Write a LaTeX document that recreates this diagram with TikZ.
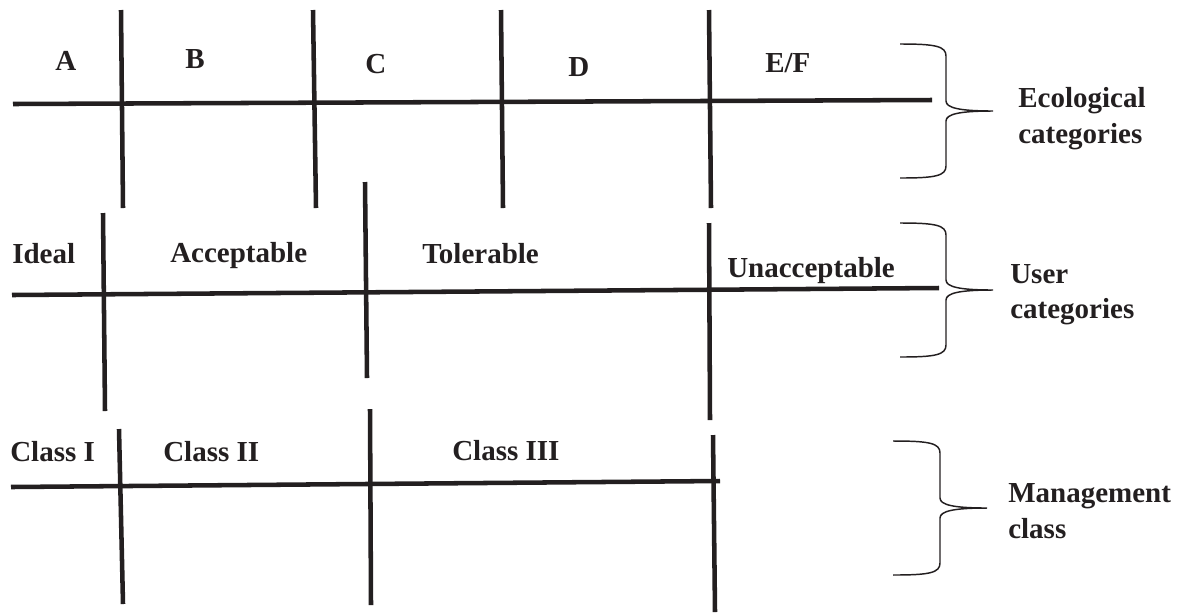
\documentclass[tikz,border=0pt]{standalone}
\usepackage{fontspec}
\setmainfont{Liberation Serif}
\definecolor{ink}{HTML}{231F20}
\tikzset{
  bar/.style={draw=ink,line width=3.4pt},
  lab/.style={anchor=base west,inner sep=0pt,text=ink,font=\fontsize{21.75}{26}\selectfont\bfseries},
  bracket/.style={draw=ink,line width=1.1pt}
}
\begin{document}
\begin{tikzpicture}[x=0.75pt,y=-0.75pt]
\useasboundingbox (0,0) rectangle (1187,612);
% ---------- Row 1: ecological categories
\coordinate (h1a) at (13,104); \coordinate (h1b) at (932,100);
\draw[bar] (h1a) -- (h1b);
\coordinate (v1at) at (121,10);  \coordinate (v1ab) at (123,208);
\coordinate (v1bt) at (313,10);  \coordinate (v1bb) at (316,208);
\coordinate (v1ct) at (501,10);  \coordinate (v1cb) at (503,208);
\coordinate (v1dt) at (709,10);  \coordinate (v1db) at (711,208);
\draw[bar] (v1at) -- (v1ab);
\draw[bar] (v1bt) -- (v1bb);
\draw[bar] (v1ct) -- (v1cb);
\draw[bar] (v1dt) -- (v1db);
\node[lab] (A) at (55,70) {A};
\node[lab] (B) at (185,68) {B};
\node[lab] (C) at (365,73) {C};
\node[lab] (D) at (568,76) {D};
\node[lab] (EF) at (765,72) {E/F};
\draw[bracket] (900,44) .. controls (935,44) and (946,46) .. (946,56) -- (946,101)
  .. controls (946,108) and (960,111) .. (993,111)
  .. controls (960,111) and (946,114) .. (946,121) -- (946,166)
  .. controls (946,176) and (935,178) .. (900,178);
\node[lab] (eco1) at (1018,107) {Ecological};
\node[lab] (eco2) at (1018,143) {categories};
% ---------- Row 2: user categories
\coordinate (h2a) at (12,295); \coordinate (h2b) at (939,288);
\draw[bar] (h2a) -- (h2b);
\coordinate (v2at) at (103,213); \coordinate (v2ab) at (105,411);
\coordinate (v2bt) at (365,182); \coordinate (v2bb) at (367,378);
\coordinate (v2ct) at (709,223); \coordinate (v2cb) at (710,420);
\draw[bar] (v2at) -- (v2ab);
\draw[bar] (v2bt) -- (v2bb);
\draw[bar] (v2ct) -- (v2cb);
\node[lab] (ideal) at (12,263) {Ideal};
\node[lab] (accept) at (170,262) {Acceptable};
\node[lab] (toler) at (422,263) {Tolerable};
\node[lab] (unacc) at (727,277) {Unacceptable};
\draw[bracket] (900,223) .. controls (935,223) and (946,225) .. (946,235) -- (946,280)
  .. controls (946,287) and (960,290) .. (993,290)
  .. controls (960,290) and (946,293) .. (946,300) -- (946,345)
  .. controls (946,355) and (935,357) .. (900,357);
\node[lab] (user1) at (1010,283) {User};
\node[lab] (user2) at (1010,318) {categories};
% ---------- Row 3: management class
\coordinate (h3a) at (11,487); \coordinate (h3b) at (720,481);
\draw[bar] (h3a) -- (h3b);
\coordinate (v3at) at (119,429); \coordinate (v3ab) at (123,604);
\coordinate (v3bt) at (370,409); \coordinate (v3bb) at (371,605);
\coordinate (v3ct) at (713,435); \coordinate (v3cb) at (715,612);
\draw[bar] (v3at) -- (v3ab);
\draw[bar] (v3bt) -- (v3bb);
\draw[bar] (v3ct) -- (v3cb);
\node[lab] (c1) at (10,461) {Class I};
\node[lab] (c2) at (163,461) {Class II};
\node[lab] (c3) at (452,460) {Class III};
\draw[bracket] (893,441) .. controls (929,441) and (940,443) .. (940,453) -- (940,498)
  .. controls (940,505) and (954,508) .. (987,508)
  .. controls (954,508) and (940,511) .. (940,518) -- (940,563)
  .. controls (940,573) and (929,575) .. (893,575);
\node[lab] (mg1) at (1008,502) {Management};
\node[lab] (mg2) at (1008,538) {class};
\end{tikzpicture}
\end{document}
